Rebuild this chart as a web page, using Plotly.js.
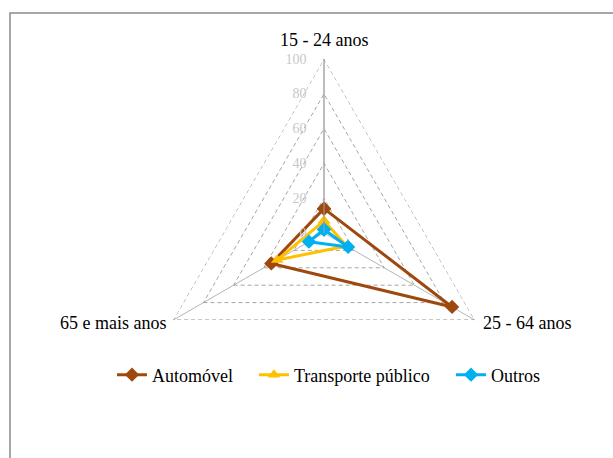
<!DOCTYPE html>
<html>
<head>
<meta charset="utf-8">
<script src="https://cdn.plot.ly/plotly-3.0.1.min.js"></script>
<style>
html,body{margin:0;padding:0;background:#fff;}
#chart{width:613px;height:458px;}
</style>
</head>
<body>
<div id="chart"></div>
<script>
// Data
const categories = ["15 - 24 anos", "25 - 64 anos", "65 e mais anos"];
const seriesNames = ["Automóvel", "Transporte público", "Outros"];
const automovel = [14, 85, 35];
const transporte = [7, 15, 31];
const outros = [2, 16, 10];
const radialTicks = [0, 20, 40, 60, 80, 100];

const colors = ["#9E480E", "#FFC000", "#00B0F0"];
const symbols = ["diamond", "triangle-up", "diamond"];
const values = [automovel, transporte, outros];
const serif = "'Liberation Serif', 'Times New Roman', serif";
const legendIds = ["legend", "legend2", "legend3"];

const rMax = radialTicks[radialTicks.length - 1];

// outer grid ring (the 100 gridline), drawn as a dashed closed polygon
const outerRing = {
  type: "scatterpolar",
  mode: "lines",
  r: categories.map(() => rMax).concat([rMax]),
  theta: categories.concat([categories[0]]),
  line: {color: "#8c8c8c", width: 1, dash: "4px,3px"},
  cliponaxis: false,
  showlegend: false,
  hoverinfo: "skip"
};

const traces = [outerRing].concat(values.map((v, i) => ({
  type: "scatterpolar",
  mode: "lines+markers",
  name: seriesNames[i],
  legend: legendIds[i],
  r: v.concat([v[0]]),
  theta: categories.concat([categories[0]]),
  line: {color: colors[i], width: 3},
  marker: {color: colors[i], symbol: symbols[i], size: 11},
  cliponaxis: false
})));

const cx = 324, cy = 233, R = 174, W = 613, H = 458;

// category label placements (page pixels)
const labelPos = [
  {x: 324, y: 40, xanchor: "center"},
  {x: 481, y: 323, xanchor: "left"},
  {x: 168, y: 323, xanchor: "right"}
];

const annotations = categories.map((c, i) => ({
  text: c, showarrow: false,
  xref: "paper", yref: "paper",
  x: labelPos[i].x / W, y: (H - labelPos[i].y) / H,
  xanchor: labelPos[i].xanchor, yanchor: "middle",
  font: {family: serif, size: 18, color: "#000000"}
}));

const legendX = [112, 254, 451];
const legendBase = (x) => ({
  orientation: "h",
  x: x / W, xanchor: "left",
  y: (H - 375) / H, yanchor: "middle",
  bgcolor: "rgba(0,0,0,0)",
  font: {family: serif, size: 18, color: "#000000"}
});

const layout = {
  width: W, height: H,
  margin: {l: 0, r: 0, t: 0, b: 0},
  paper_bgcolor: "#ffffff",
  plot_bgcolor: "#ffffff",
  font: {family: serif, size: 18, color: "#000000"},
  showlegend: true,
  legend: legendBase(legendX[0]),
  legend2: legendBase(legendX[1]),
  legend3: legendBase(legendX[2]),
  polar: {
    domain: {x: [(cx - R) / W, (cx + R) / W], y: [(H - cy - R) / H, (H - cy + R) / H]},
    gridshape: "linear",
    bgcolor: "rgba(0,0,0,0)",
    radialaxis: {
      range: [0, rMax],
      tickvals: radialTicks,
      ticktext: radialTicks.map(String),
      angle: 90,
      side: "counterclockwise",
      showline: true,
      linecolor: "#a0a0a0",
      linewidth: 1,
      ticks: "outside",
      ticklen: 12,
      tickcolor: "rgba(0,0,0,0)",
      tickangle: 90,
      gridcolor: "#a6a6a6",
      griddash: "4px,3px",
      gridwidth: 1,
      tickfont: {family: serif, size: 14, color: "#c8c8c8"}
    },
    angularaxis: {
      direction: "clockwise",
      rotation: 90,
      showline: false,
      showgrid: true,
      gridcolor: "#b4b4b4",
      gridwidth: 1,
      ticks: "",
      showticklabels: false
    }
  },
  annotations: annotations,
  shapes: [{
    type: "path",
    xref: "paper", yref: "paper",
    path: `M ${10 / W} 0 L ${10 / W} ${(H - 13) / H} L 1 ${(H - 13) / H}`,
    line: {color: "#8a8a8a", width: 1.5}
  }]
};

Plotly.newPlot("chart", traces, layout, {displayModeBar: false, staticPlot: true});
</script>
</body>
</html>
